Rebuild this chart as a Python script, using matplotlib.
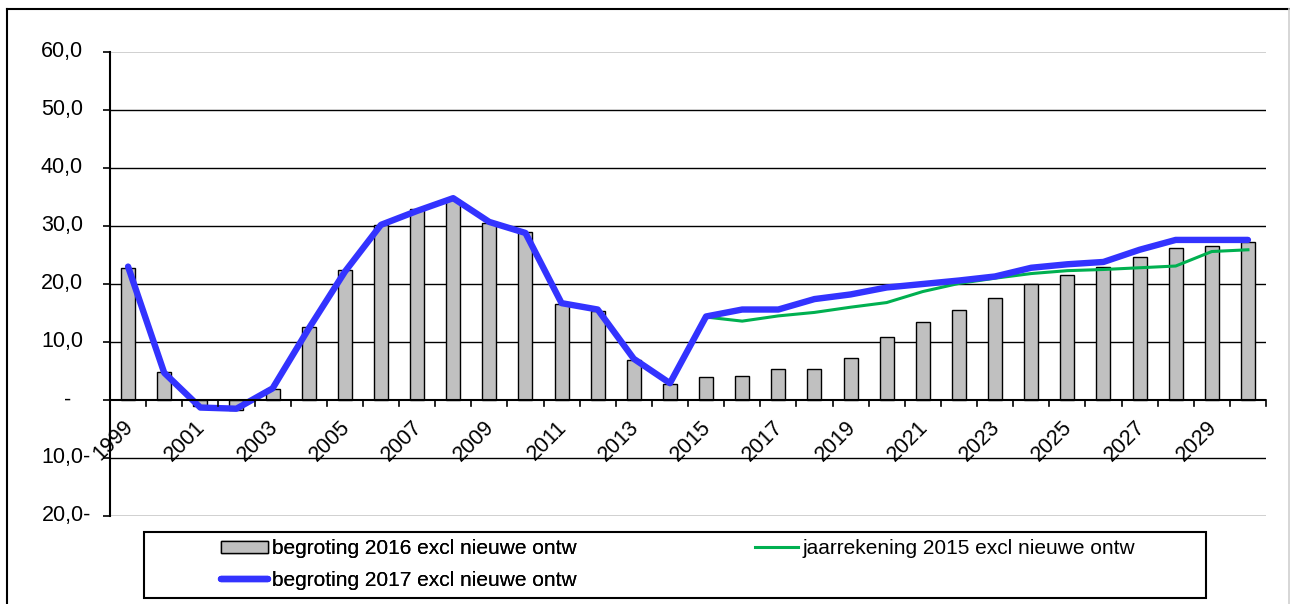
import numpy as np
import matplotlib.pyplot as plt
from matplotlib.patches import Rectangle
from matplotlib.lines import Line2D
import matplotlib.transforms as mtransforms

plt.rcParams['font.family'] = ['Liberation Sans', 'DejaVu Sans']

years = list(range(1999, 2031))

# begroting 2016 excl nieuwe ontw (bars)
begroting_2016 = [22.7, 4.8, -1.0, -1.7, 1.9, 12.6, 22.4, 30.2, 32.9, 34.5,
                  30.5, 29.0, 16.5, 15.3, 6.9, 2.8, 3.9, 4.2, 5.4, 5.4,
                  7.2, 10.8, 13.4, 15.5, 17.6, 20.0, 21.5, 23.0, 24.7, 26.2,
                  26.5, 27.2]

# jaarrekening 2015 excl nieuwe ontw (from 2015 on)
jaarrekening_years = list(range(2015, 2031))
jaarrekening_2015 = [14.3, 13.6, 14.5, 15.1, 16.0, 16.8, 18.7, 20.1, 21.0, 21.8,
                     22.3, 22.5, 22.8, 23.1, 25.6, 25.9]

# begroting 2017 excl nieuwe ontw
begroting_2017 = [23.0, 4.7, -1.3, -1.5, 2.0, 12.3, 22.1, 30.2, 32.6, 34.8,
                  30.7, 28.8, 16.7, 15.6, 7.1, 2.9, 14.4, 15.6, 15.6, 17.4,
                  18.2, 19.4, 20.0, 20.6, 21.3, 22.8, 23.4, 23.8, 25.9, 27.6,
                  27.6, 27.6]

y_ticks = [-20, -10, 0, 10, 20, 30, 40, 50, 60]
fs = 15.5
lfs = 15


def ylabel_text(v):
    if v == 0:
        return '-'
    if v < 0:
        return '%d,0-' % abs(v)
    return '%d,0' % v


def main():
    fig = plt.figure(figsize=(12.9, 6.04), dpi=100)
    ax = fig.add_axes([110 / 1290, 1 - 516 / 604, 1156 / 1290, 464 / 604])

    x = np.arange(len(years))
    xj = np.array([years.index(y) for y in jaarrekening_years])

    ax.bar(x, begroting_2016, width=0.39, color='#C0C0C0',
           edgecolor='black', linewidth=1.0, zorder=2)
    green, = ax.plot(xj, jaarrekening_2015, color='#00B050', lw=2.2, zorder=3)
    blue, = ax.plot(x, begroting_2017, color='#3333FF', lw=4.6, zorder=4,
                    solid_capstyle='round', solid_joinstyle='round')

    ax.set_xlim(-0.5, len(years) - 0.5)
    ax.set_ylim(-20, 60)

    # gridlines
    for v in [-10, 10, 20, 30, 40, 50]:
        ax.axhline(v, color='black', lw=1.0, zorder=1)
    for v in [-20, 60]:
        ax.axhline(v, color='#C8C8C8', lw=1.2, zorder=1)

    for s in ['top', 'right', 'bottom']:
        ax.spines[s].set_visible(False)
    ax.spines['left'].set_linewidth(1.5)
    ax.axhline(0, color='black', lw=1.5, zorder=5)

    # y ticks, labels drawn as text
    ax.set_yticks(y_ticks)
    ax.set_yticklabels([])
    ax.tick_params(axis='y', direction='out', length=5, width=1.2)
    for v in y_ticks:
        if v == 0:
            dx, ha = -42, 'center'
        elif v < 0:
            dx, ha = -19, 'right'
        else:
            dx, ha = -27, 'right'
        tr = ax.get_yaxis_transform() + mtransforms.ScaledTranslation(
            dx / 100, 0, fig.dpi_scale_trans)
        ax.text(0, v, ylabel_text(v), transform=tr, ha=ha, va='center',
                fontsize=fs)

    # x ticks at category boundaries from the zero line
    ax.set_xticks([])
    for b in np.arange(0.5, len(years), 1.0):
        ax.plot([b, b], [0, -1.1], color='black', lw=1.2, zorder=5,
                clip_on=False)
    for i, yr in enumerate(years):
        if (yr - 1999) % 2:
            continue
        tr = ax.transData + mtransforms.ScaledTranslation(
            2 / 100, -24 / 100, fig.dpi_scale_trans)
        ax.text(i, 0, str(yr), transform=tr, rotation=45, ha='right',
                va='center', rotation_mode='anchor', fontsize=fs, zorder=6)

    # chart border
    fig.add_artist(Line2D([7 / 1290, 7 / 1290], [0, 1 - 9 / 604],
                          color='black', lw=1.5))
    fig.add_artist(Line2D([7 / 1290, 1], [1 - 9 / 604, 1 - 9 / 604],
                          color='black', lw=1.5))
    fig.add_artist(Line2D([1289 / 1290, 1289 / 1290], [0, 1 - 9 / 604],
                          color='#D0D0D0', lw=1.2))

    # legend box
    lx0, lx1 = 144 / 1290, 1206 / 1290
    ly0, ly1 = 1 - 598 / 604, 1 - 532 / 604
    fig.add_artist(Rectangle((lx0, ly0), lx1 - lx0, ly1 - ly0,
                             transform=fig.transFigure, fill=False,
                             edgecolor='black', lw=1.5))
    bar_handle = Rectangle((0, 0), 1, 1, facecolor='#C0C0C0',
                           edgecolor='black', lw=1.0)
    leg1 = fig.legend([bar_handle, blue],
                      ['begroting 2016 excl nieuwe ontw',
                       'begroting 2017 excl nieuwe ontw'],
                      loc='upper left', bbox_to_anchor=(221 / 1290, 1 - 539 / 604),
                      frameon=False, fontsize=lfs, handlelength=2.25,
                      handleheight=0.5, handletextpad=0.2, labelspacing=0.62,
                      borderaxespad=0.0, borderpad=0.0)
    fig.add_artist(leg1)
    fig.legend([green], ['jaarrekening 2015 excl nieuwe ontw'],
               loc='upper left', bbox_to_anchor=(755 / 1290, 1 - 539 / 604),
               frameon=False, fontsize=lfs, handlelength=2.05,
               handletextpad=0.25, borderaxespad=0.0, borderpad=0.0)

    plt.savefig('out.png', dpi=100)
    plt.close()


if __name__ == "__main__":
    main()
